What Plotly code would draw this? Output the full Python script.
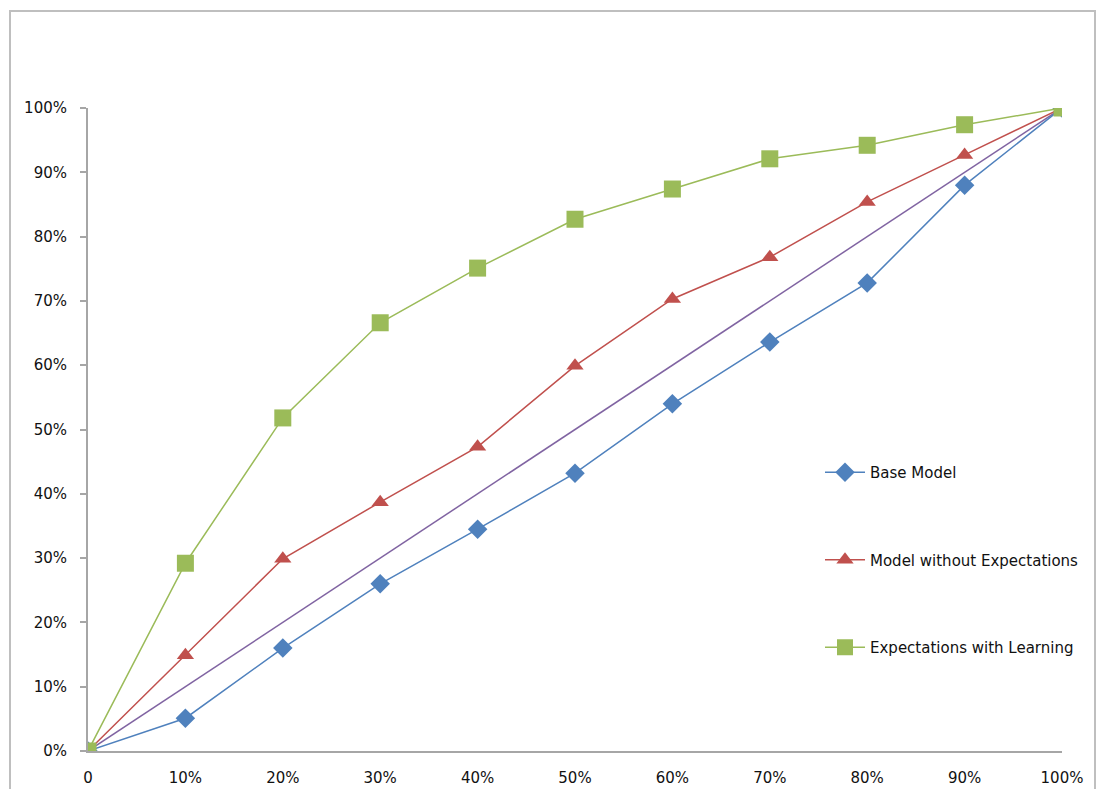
import plotly.graph_objects as go

# Share of population (x) and cumulative share captured by each model (y)
x_vals = [0.0, 0.1, 0.2, 0.3, 0.4, 0.5, 0.6, 0.7, 0.8, 0.9, 1.0]
x_labels = ["0", "10%", "20%", "30%", "40%", "50%", "60%", "70%", "80%", "90%", "100%"]

base_model = [0.0, 0.051, 0.160, 0.260, 0.345, 0.432, 0.540, 0.636, 0.728, 0.880, 1.0]
model_without_expectations = [0.0, 0.149, 0.299, 0.387, 0.473, 0.599, 0.703, 0.768, 0.854, 0.927, 1.0]
expectations_with_learning = [0.0, 0.292, 0.518, 0.666, 0.751, 0.827, 0.874, 0.921, 0.942, 0.974, 1.0]
random_line = [0.0, 0.1, 0.2, 0.3, 0.4, 0.5, 0.6, 0.7, 0.8, 0.9, 1.0]

y_ticks = [0.0, 0.1, 0.2, 0.3, 0.4, 0.5, 0.6, 0.7, 0.8, 0.9, 1.0]
y_labels = ["0%", "10%", "20%", "30%", "40%", "50%", "60%", "70%", "80%", "90%", "100%"]

BLUE = "#4F81BD"
RED = "#C0504D"
GREEN = "#9BBB59"
PURPLE = "#8064A2"

fig = go.Figure()

# diagonal reference (no markers, not in legend)
fig.add_trace(go.Scatter(
    x=x_vals, y=random_line, mode="lines",
    line=dict(color=PURPLE, width=1.5), showlegend=False, hoverinfo="skip",
))
fig.add_trace(go.Scatter(
    x=x_vals, y=base_model, mode="lines+markers", name="Base Model",
    legendgroup="a",
    line=dict(color=BLUE, width=1.5),
    marker=dict(symbol="diamond", size=15, color=BLUE),
))
fig.add_trace(go.Scatter(
    x=x_vals, y=model_without_expectations, mode="lines+markers",
    name="Model without Expectations", legendgroup="b",
    line=dict(color=RED, width=1.5),
    marker=dict(symbol="triangle-up", size=15, color=RED),
))
fig.add_trace(go.Scatter(
    x=x_vals, y=expectations_with_learning, mode="lines+markers",
    name="Expectations with Learning", legendgroup="c",
    line=dict(color=GREEN, width=1.5),
    marker=dict(symbol="square", size=17, color=GREEN),
))

# plot area geometry in pixels, used to place the outer frame and legend
W, H = 1098, 789
L, R, T, B = 88, 36, 108, 38
pw, ph = W - L - R, H - T - B

def px_x(x):
    return (x - L) / pw

def px_y(y):
    return (H - B - y) / ph

fig.add_shape(
    type="rect", xref="paper", yref="paper",
    x0=px_x(10), x1=px_x(1095), y0=px_y(800), y1=px_y(11),
    line=dict(color="#BFBFBF", width=2), fillcolor="rgba(0,0,0,0)", layer="below",
)

FONT = "'DejaVu Sans', Verdana, sans-serif"
axis_font = dict(family=FONT, size=15, color="#111111")

fig.update_layout(
    width=W, height=H,
    margin=dict(l=L, r=R, t=T, b=B, pad=0, autoexpand=False),
    paper_bgcolor="white", plot_bgcolor="white",
    font=axis_font,
    showlegend=True,
    legend=dict(
        x=px_x(820), y=px_y(456), xanchor="left", yanchor="top",
        traceorder="grouped", tracegroupgap=65,
        font=dict(family=FONT, size=15, color="#111111"),
        bgcolor="rgba(0,0,0,0)", itemwidth=40,
    ),
    xaxis=dict(
        range=[0, 1], tickmode="array", tickvals=x_vals, ticktext=x_labels,
        showgrid=False, zeroline=False, showline=True, automargin=False,
        linecolor="#A6A6A6", linewidth=2, ticks="", ticklabelstandoff=12,
        tickfont=axis_font,
    ),
    yaxis=dict(
        range=[0, 1], tickmode="array", tickvals=y_ticks, ticktext=y_labels,
        showgrid=False, zeroline=False, showline=True, automargin=False,
        linecolor="#A6A6A6", linewidth=2, ticks="outside", ticklen=6,
        tickcolor="#A6A6A6", tickwidth=1.5, ticklabelstandoff=10,
        tickfont=axis_font,
    ),
)

fig.write_html("out.html")
